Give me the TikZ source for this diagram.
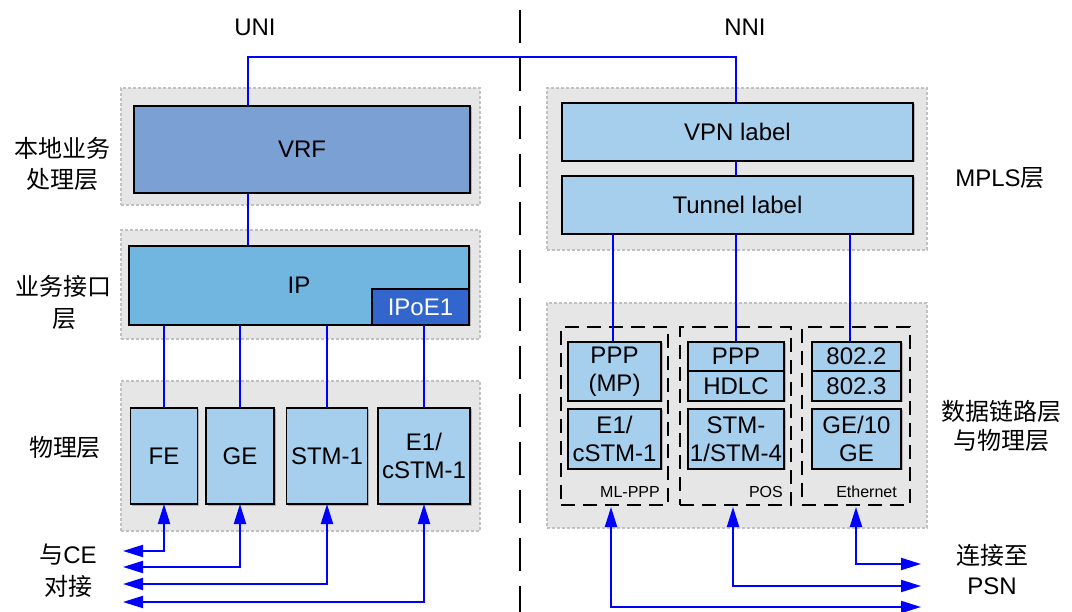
\documentclass[tikz,border=0pt]{standalone}
\usepackage{fontspec}
\setmainfont{Liberation Sans}
\newfontfamily\cjk{Noto Sans CJK SC}
\usetikzlibrary{arrows.meta,shadows}

\definecolor{panelfill}{RGB}{230,230,230}
\definecolor{panelline}{RGB}{192,192,192}
\definecolor{vrfblue}{RGB}{123,160,212}
\definecolor{ipblue}{RGB}{112,182,225}
\definecolor{ipoeblue}{RGB}{51,102,204}
\definecolor{lightblue}{RGB}{166,206,237}
\definecolor{linkblue}{RGB}{0,0,255}

\newcommand\zh[1]{{\cjk #1}}

\tikzset{
  panel/.style={draw=panelline, fill=panelfill, line width=1.6pt,
    dash pattern=on 3pt off 2pt, inner sep=0pt, outer sep=0pt},
  layerbox/.style={draw=black, line width=1.8pt, inner sep=0pt, outer sep=0pt,
    align=center, font=\fontsize{24}{28}\selectfont,
    drop shadow={shadow xshift=1.5pt, shadow yshift=-1.5pt, fill=black!30, opacity=1}},
  groupbox/.style={draw=black, line width=2.6pt, dash pattern=on 14pt off 8pt,
    inner sep=0pt, outer sep=0pt},
  lbl/.style={align=center, font=\fontsize{24}{30}\selectfont, inner sep=0pt},
  sublbl/.style={font=\fontsize{16}{18}\selectfont, inner sep=0pt},
  link/.style={draw=linkblue, line width=2pt},
  biarrow/.style={link, {Triangle[length=20pt,width=12pt]}-{Triangle[length=20pt,width=12pt]}},
  divider/.style={line width=2.8pt, dash pattern=on 33pt off 15pt}
}

\begin{document}
\begin{tikzpicture}[x=1pt,y=-1pt]
\useasboundingbox (0,0) rectangle (1072,612);

% column titles and the UNI / NNI divider
\node[lbl] (uni) at (255,27) {UNI};
\node[lbl] (nni) at (745,27) {NNI};
\draw[divider] (520,10) -- (520,612);

% grey layer panels
\node[panel, minimum width=359pt, minimum height=117pt] (pA) at (300.5,146.5) {};
\node[panel, minimum width=359pt, minimum height=109pt] (pB) at (300.5,284.5) {};
\node[panel, minimum width=359pt, minimum height=150pt] (pC) at (300.5,456) {};
\node[panel, minimum width=380pt, minimum height=162pt] (pD) at (737,169) {};
\node[panel, minimum width=380pt, minimum height=225pt] (pE) at (737,415.5) {};

% layer names
\node[lbl, font=\fontsize{24}{31}\selectfont] (nA) at (63,164) {\zh{本地业务}\\\zh{处理层}};
\node[lbl, font=\fontsize{24}{32}\selectfont] (nB) at (64,302) {\zh{业务接口}\\\zh{层}};
\node[lbl] (nC) at (65,447) {\zh{物理层}};
\node[lbl] (nD) at (1000,178) {MPLS\zh{层}};
\node[lbl, font=\fontsize{24}{29}\selectfont] (nE) at (1001,425.5) {\zh{数据链路层}\\\zh{与物理层}};
\node[lbl, font=\fontsize{24}{32}\selectfont] (ce) at (68,571) {\zh{与}CE\\\zh{对接}};
\node[lbl, font=\fontsize{24}{30}\selectfont] (psn) at (992,570) {\zh{连接至}\\PSN};

% UNI side
\node[layerbox, fill=vrfblue, minimum width=336pt, minimum height=87pt] (vrf) at (302,149.5) {VRF};
\node[layerbox, fill=ipblue, minimum width=340pt, minimum height=79pt] (ip) at (299,285.5) {IP};
\node[layerbox, fill=ipoeblue, text=white, minimum width=97pt, minimum height=36pt,
      anchor=south east] (ipoe) at (ip.south east) {IPoE1};
\node[layerbox, fill=lightblue, minimum width=67pt, minimum height=96pt] (fe) at (164,456) {FE};
\node[layerbox, fill=lightblue, minimum width=68pt, minimum height=96pt] (ge) at (240,456) {GE};
\node[layerbox, fill=lightblue, minimum width=81pt, minimum height=96pt] (stm) at (327,456) {STM-1};
\node[layerbox, fill=lightblue, minimum width=92pt, minimum height=96pt] (e1) at (424,456) {E1/\\cSTM-1};

% NNI side
\node[layerbox, fill=lightblue, minimum width=351pt, minimum height=58pt] (vpn) at (737.5,132) {VPN label};
\node[layerbox, fill=lightblue, minimum width=351pt, minimum height=58pt] (tun) at (737.5,205) {Tunnel label};

\node[groupbox, minimum width=107pt, minimum height=178pt] (mlppp) at (614.5,416) {};
\node[groupbox, minimum width=111pt, minimum height=178pt] (pos) at (735.5,416) {};
\node[groupbox, minimum width=108pt, minimum height=178pt] (eth) at (856,416) {};
\node[sublbl, anchor=east] (mlpppt) at ([shift={(-8,-13)}]mlppp.south east) {ML-PPP};
\node[sublbl, anchor=east] (post) at ([shift={(-8,-13)}]pos.south east) {POS};
\node[sublbl, anchor=east] (etht) at ([shift={(-13,-13)}]eth.south east) {Ethernet};

\node[layerbox, fill=lightblue, minimum width=93pt, minimum height=59pt] (pppmp) at (614.5,371.5) {PPP\\(MP)};
\node[layerbox, fill=lightblue, minimum width=93pt, minimum height=60pt] (e1r) at (614.5,439) {E1/\\cSTM-1};
\node[layerbox, fill=lightblue, minimum width=96pt, minimum height=29pt] (ppp) at (736,356.5) {PPP};
\node[layerbox, fill=lightblue, minimum width=96pt, minimum height=30pt] (hdlc) at (736,386) {HDLC};
\node[layerbox, fill=lightblue, minimum width=96pt, minimum height=60pt] (stm4) at (736,439) {STM-\\1/STM-4};
\node[layerbox, fill=lightblue, minimum width=89pt, minimum height=29pt] (e8022) at (856.5,356.5) {802.2};
\node[layerbox, fill=lightblue, minimum width=89pt, minimum height=30pt] (e8023) at (856.5,386) {802.3};
\node[layerbox, fill=lightblue, minimum width=89pt, minimum height=60pt] (ge10) at (856.5,439) {GE/10\\GE};

% routing path between the VRF and the VPN label
\coordinate (tl) at (248,57);
\coordinate (tr) at (736,57);
\draw[link] (vrf.north -| tl) -- (tl) -- (tr) -- (vpn.north -| tr);
\draw[link] (vrf.south -| tl) -- (ip.north -| tl);
\draw[link] (vpn.south -| tr) -- (tun.north -| tr);

% IP down to the physical ports
\draw[link] (ip.south -| fe.north) -- (fe.north);
\draw[link] (ip.south -| ge.north) -- (ge.north);
\draw[link] (ip.south -| stm.north) -- (stm.north);
\draw[link] (ipoe.south -| e1.north) -- (e1.north);

% tunnel label down to the link layers
\coordinate (xu1) at (613,0);
\coordinate (xu2) at (736,0);
\coordinate (xu3) at (850,0);
\draw[link] (tun.south -| xu1) -- (pppmp.north -| xu1);
\draw[link] (tun.south -| xu2) -- (ppp.north -| xu2);
\draw[link] (tun.south -| xu3) -- (e8022.north -| xu3);

% attachment to the CE
\coordinate (ce1) at (123,551);
\coordinate (ce2) at (123,567);
\coordinate (ce3) at (123,584);
\coordinate (ce4) at (123,602);
\draw[biarrow] (fe.south) |- (ce1);
\draw[biarrow] (ge.south) |- (ce2);
\draw[biarrow] (stm.south) |- (ce3);
\draw[biarrow] (e1.south) |- (ce4);

% attachment to the PSN
\coordinate (xa) at (611,0);
\coordinate (xb) at (733,0);
\coordinate (xc) at (856,0);
\coordinate (psn1) at (921,564);
\coordinate (psn2) at (921,586);
\coordinate (psn3) at (921,607);
\draw[biarrow] ([yshift=-2pt]mlppp.south -| xa) |- (psn3);
\draw[biarrow] ([yshift=-2pt]pos.south -| xb) |- (psn2);
\draw[biarrow] ([yshift=-2pt]eth.south -| xc) |- (psn1);
\end{tikzpicture}
\end{document}
